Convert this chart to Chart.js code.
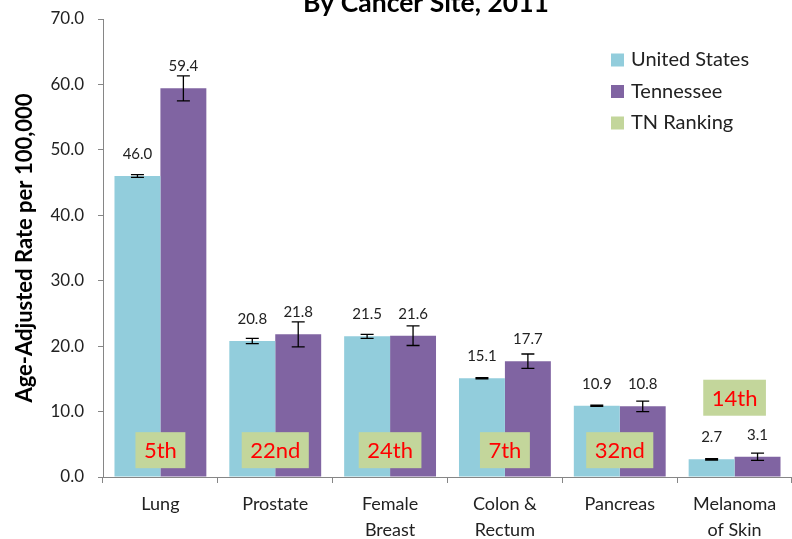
<!DOCTYPE html>
<html lang="en">
<head>
<meta charset="UTF-8">
<title>Cancer Death Rates By Cancer Site, 2011</title>
<script src="https://cdn.jsdelivr.net/npm/chart.js@4.4.1/dist/chart.umd.min.js"></script>
<style>
  html, body { margin: 0; padding: 0; background: #fff; }
  #wrap { width: 792px; height: 539px; }
</style>
</head>
<body>
<div id="wrap"><canvas id="myChart" width="792" height="539"></canvas></div>
<script>
// values
let sites = [['Lung'], ['Prostate'], ['Female', 'Breast'], ['Colon &', 'Rectum'], ['Pancreas'], ['Melanoma', 'of Skin']];
let usRates = [46.0, 20.8, 21.5, 15.1, 10.9, 2.7];
let tnRates = [59.4, 21.8, 21.6, 17.7, 10.8, 3.1];
let usErrors = [0.2, 0.4, 0.3, 0.1, 0.1, 0.1];
let tnErrors = [1.9, 1.9, 1.5, 1.1, 0.8, 0.55];
let tnRanking = ['5th', '22nd', '24th', '7th', '32nd', '14th'];
let yTicks = [0, 10, 20, 30, 40, 50, 60, 70];

const FONT = 'Lato, "Open Sans", sans-serif';
const US_COLOR = '#92CDDC';
const TN_COLOR = '#8064A2';
const RANK_COLOR = '#C3D69B';

// error bars, value labels, ranking boxes, title and legend
const extras = {
    id: 'extras',
    afterDatasetsDraw(chart) {
        const ctx = chart.ctx;
        const y = chart.scales.y;
        const x = chart.scales.x;
        const errs = [usErrors, tnErrors];
        ctx.save();

        [0, 1].forEach(d => {
            chart.getDatasetMeta(d).data.forEach((bar, i) => {
                let v = chart.data.datasets[d].data[i];
                let top = y.getPixelForValue(v + errs[d][i]);
                let bot = y.getPixelForValue(v - errs[d][i]);
                ctx.strokeStyle = '#000';
                ctx.lineWidth = 1.3;
                ctx.beginPath();
                ctx.moveTo(bar.x, top); ctx.lineTo(bar.x, bot);
                ctx.moveTo(bar.x - 6.5, top); ctx.lineTo(bar.x + 6.5, top);
                ctx.moveTo(bar.x - 6.5, bot); ctx.lineTo(bar.x + 6.5, bot);
                ctx.stroke();

                ctx.fillStyle = '#222';
                ctx.font = '15px ' + FONT;
                ctx.textAlign = 'center';
                ctx.textBaseline = 'middle';
                ctx.fillText(v.toFixed(1), bar.x, bar.y - 22);
            });
        });

        // TN ranking boxes, lifted above the labels when the bars are short
        tnRanking.forEach((r, i) => {
            let cx = x.getPixelForValue(i);
            let tallest = Math.max(usRates[i], tnRates[i]);
            let cy = y.getPixelForValue(4.1);
            if (tallest < 8) cy = y.getPixelForValue(tallest) - 22 - 37;
            ctx.font = '22px ' + FONT;
            let w = ctx.measureText(r).width + 17;
            ctx.fillStyle = RANK_COLOR;
            ctx.fillRect(cx - w / 2, cy - 18, w, 36);
            ctx.fillStyle = '#FF0000';
            ctx.textAlign = 'center';
            ctx.textBaseline = 'middle';
            ctx.fillText(r, cx, cy + 1);
        });

        // title, cut off at the top like the original
        ctx.fillStyle = '#000';
        ctx.font = 'bold 26.5px ' + FONT;
        ctx.textAlign = 'center';
        ctx.textBaseline = 'alphabetic';
        ctx.fillText('By Cancer Site, 2011', 426, 12);

        // legend
        let items = [['United States', US_COLOR], ['Tennessee', TN_COLOR], ['TN Ranking', RANK_COLOR]];
        items.forEach((it, k) => {
            let ly = 60 + k * 31.5;
            ctx.fillStyle = it[1];
            ctx.fillRect(611, ly - 6.5, 13, 13);
            ctx.fillStyle = '#222';
            ctx.font = '20px ' + FONT;
            ctx.textAlign = 'left';
            ctx.textBaseline = 'middle';
            ctx.fillText(it[0], 631, ly);
        });
        ctx.restore();
    }
};

let ctx = document.getElementById('myChart').getContext('2d');
let myChart = new Chart(ctx, {
    type: 'bar',
    data: {
        labels: sites,
        datasets: [
            { label: 'United States', data: usRates, backgroundColor: US_COLOR },
            { label: 'Tennessee', data: tnRates, backgroundColor: TN_COLOR }
        ]
    },
    options: {
        responsive: false,
        animation: false,
        devicePixelRatio: 1,
        categoryPercentage: 0.8,
        barPercentage: 1.0,
        layout: { padding: { top: 19, right: 0, bottom: 0, left: 0 } },
        plugins: {
            legend: { display: false },
            tooltip: { enabled: false }
        },
        scales: {
            x: {
                grid: { drawOnChartArea: false, tickLength: 6, color: '#868686', offset: true },
                border: { color: '#868686' },
                ticks: {
                    color: '#222', padding: 9, maxRotation: 0, autoSkip: false,
                    font: { family: FONT, size: 18, lineHeight: 1.4 }
                },
                afterFit: s => { s.height = 62; }
            },
            y: {
                min: 0,
                max: 70,
                afterBuildTicks: s => { s.ticks = yTicks.map(v => ({ value: v })); },
                ticks: {
                    color: '#222', padding: 14,
                    font: { family: FONT, size: 17 },
                    callback: v => v.toFixed(1)
                },
                grid: { drawOnChartArea: false, tickLength: 5, color: '#868686' },
                border: { color: '#868686' },
                title: {
                    display: true,
                    text: 'Age-Adjusted Rate per 100,000',
                    color: '#000',
                    font: { family: FONT, size: 22, weight: 'bold' },
                    padding: { top: 12, bottom: 0 }
                },
                afterFit: s => {
                    s.width = 103;
                    s.paddingTop = 0;
                    s.paddingBottom = 0;
                }
            }
        }
    },
    plugins: [extras]
});
</script>
</body>
</html>
